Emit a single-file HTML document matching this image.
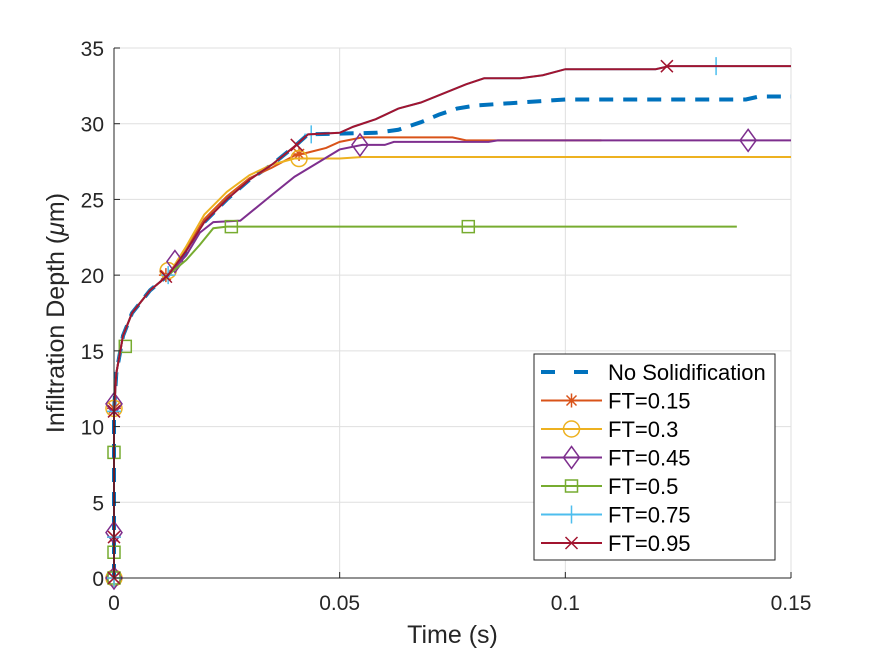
<!DOCTYPE html>
<html><head><meta charset="utf-8"><style>
html,body{margin:0;padding:0;background:#fff;}
svg text{font-family:"Liberation Sans",sans-serif;fill:#262626;}
</style></head><body>
<svg id="chart" width="875" height="656" viewBox="0 0 875 656" xmlns="http://www.w3.org/2000/svg">
<rect width="875" height="656" fill="#fff"/>
<g id="grid"></g><g id="series"></g><g id="axes"></g><g id="legend"></g>
</svg>
<script>
const xTicks=[0,0.05,0.1,0.15];
const xTickLabels=["0","0.05","0.1","0.15"];
const yTicks=[0,5,10,15,20,25,30,35];
const base=[[0,0],[0,11],[0.0005,13.5],[0.002,16],[0.004,17.5],[0.008,19],[0.012,20]];
const noSolid=base.concat([[0.016,21.6],[0.02,23.5],[0.025,25],[0.03,26.3],[0.035,27.3],[0.04,28.5],[0.043,29.3],[0.058,29.4],[0.063,29.6],[0.068,30.1],[0.072,30.6],[0.076,31.0],[0.08,31.2],[0.09,31.4],[0.1,31.6],[0.14,31.6],[0.143,31.8],[0.15,31.8]]);
const ft15=base.concat([[0.016,21.7],[0.02,23.7],[0.025,25.2],[0.03,26.4],[0.035,27.1],[0.04,27.9],[0.043,28.1],[0.047,28.4],[0.05,28.8],[0.055,29.1],[0.075,29.1],[0.078,28.9],[0.108,28.9]]);
const ft30=base.concat([[0.016,21.9],[0.02,24],[0.025,25.5],[0.03,26.6],[0.035,27.3],[0.04,27.7],[0.05,27.7],[0.055,27.8],[0.15,27.8]]);
const ft45=base.concat([[0.016,21.3],[0.019,22.8],[0.022,23.5],[0.028,23.6],[0.035,25.3],[0.04,26.5],[0.045,27.4],[0.05,28.3],[0.055,28.6],[0.06,28.6],[0.062,28.8],[0.083,28.8],[0.085,28.9],[0.15,28.9]]);
const ft50=base.concat([[0.016,21],[0.019,22],[0.022,23.1],[0.025,23.2],[0.138,23.2]]);
const ft75=base.concat([[0.016,21.6],[0.02,23.5],[0.025,25],[0.03,26.3],[0.035,27.3],[0.04,28.5],[0.043,29.3],[0.05,29.4],[0.053,29.8],[0.058,30.3],[0.063,31.0],[0.068,31.4],[0.073,32.0],[0.078,32.6],[0.082,33.0],[0.09,33.0],[0.095,33.2],[0.1,33.6],[0.12,33.6],[0.123,33.8],[0.15,33.8]]);
const ft95=base.concat([[0.016,21.6],[0.02,23.5],[0.025,25],[0.03,26.3],[0.035,27.3],[0.04,28.5],[0.043,29.3],[0.05,29.4],[0.053,29.8],[0.058,30.3],[0.063,31.0],[0.068,31.4],[0.073,32.0],[0.078,32.6],[0.082,33.0],[0.09,33.0],[0.095,33.2],[0.1,33.6],[0.12,33.6],[0.123,33.8],[0.15,33.8]]);
const mk15=[[0,0],[0,2.7],[0,11.2],[0.0115,20],[0.041,28]];
const mk30=[[0,0],[0,11.2],[0.012,20.3],[0.041,27.7]];
const mk45=[[0,0],[0,3],[0,11.5],[0.0135,20.9],[0.0545,28.6],[0.1405,28.9]];
const mk50=[[0,0],[0,1.7],[0,8.3],[0.0025,15.3],[0.026,23.2],[0.0785,23.2]];
const mk75=[[0,0],[0,2.7],[0,11],[0.012,20],[0.0437,29.3],[0.1334,33.8]];
const mk95=[[0,0],[0,2.7],[0,11],[0.0115,19.9],[0.0405,28.6],[0.1225,33.8]];
const names=["No Solidification","FT=0.15","FT=0.3","FT=0.45","FT=0.5","FT=0.75","FT=0.95"];

const X0=114,X1=791,Y0=578,Y1=48;
const sx=t=>X0+t/0.15*(X1-X0);
const sy=d=>Y0-d/35*(Y0-Y1);
const NS="http://www.w3.org/2000/svg";
function mk(tag,attrs,parent){const e=document.createElementNS(NS,tag);for(const k in attrs)e.setAttribute(k,attrs[k]);parent.appendChild(e);return e;}
const grid=document.getElementById('grid'),axes=document.getElementById('axes'),ser=document.getElementById('series'),leg=document.getElementById('legend');
xTicks.forEach((t,i)=>{
 const g=mk('line',{x1:sx(t),x2:sx(t),y1:Y1,y2:Y0,stroke:'#dfdfdf','stroke-width':1},grid);
 
 mk('line',{x1:sx(t),x2:sx(t),y1:Y0,y2:Y0-6,stroke:'#262626'},axes);
 const tx=mk('text',{x:sx(t),y:Y0+32,'font-size':21,'text-anchor':'middle'},axes);tx.textContent=xTickLabels[i];
 
});
yTicks.forEach(v=>{
 const g=mk('line',{x1:X0,x2:X1,y1:sy(v),y2:sy(v),stroke:'#dfdfdf','stroke-width':1},grid);
 
 mk('line',{x1:X0,x2:X0+6,y1:sy(v),y2:sy(v),stroke:'#262626'},axes);
 const tx=mk('text',{x:X0-10,y:sy(v)+8,'font-size':21,'text-anchor':'end'},axes);tx.textContent=v;
 
});
const ax=mk('path',{d:`M${X0},${Y1}V${Y0}H${X1}`,fill:'none',stroke:'#262626','stroke-width':1},axes);

const xl=mk('text',{x:(X0+X1)/2,y:643,'font-size':25,'text-anchor':'middle'},axes);xl.textContent='Time (s)';

const yl=mk('text',{x:0,y:0,'font-size':25,'text-anchor':'middle',transform:`translate(64,${(Y0+Y1)/2}) rotate(-90)`},axes);
yl.innerHTML='Infiltration Depth (<tspan font-style="italic">μ</tspan>m)';


function marker(type,x,y,c,p){
 const s=7;let d;
 if(type==='star')d=`M${x-s},${y}H${x+s}M${x},${y-s}V${y+s}M${x-5},${y-5}L${x+5},${y+5}M${x-5},${y+5}L${x+5},${y-5}`;
 else if(type==='plus')d=`M${x-s},${y}H${x+s}M${x},${y-s-2}V${y+s+2}`;
 else if(type==='x')d=`M${x-6},${y-6}L${x+6},${y+6}M${x-6},${y+6}L${x+6},${y-6}`;
 else if(type==='diamond')d=`M${x},${y-11}L${x+8},${y}L${x},${y+11}L${x-8},${y}Z`;
 else if(type==='square')d=`M${x-6},${y-6}H${x+6}V${y+6}H${x-6}Z`;
 if(type==='circle'){const c1=mk('circle',{cx:x,cy:y,r:8,fill:'none',stroke:c,'stroke-width':1.5},p);return c1;}
 return mk('path',{d,fill:'none',stroke:c,'stroke-width':1.5},p);
}
const series=[
 {n:'ft-0.15',d:ft15,m:mk15,c:'#D95319',t:'star'},
 {n:'ft-0.3',d:ft30,m:mk30,c:'#EDB120',t:'circle'},
 {n:'ft-0.45',d:ft45,m:mk45,c:'#7E2F8E',t:'diamond'},
 {n:'ft-0.5',d:ft50,m:mk50,c:'#77AC30',t:'square'},
 {n:'ft-0.75',d:ft75,m:mk75,c:'#4DBEEE',t:'plus'},
 {n:'ft-0.95',d:ft95,m:mk95,c:'#A2142F',t:'x'},
];
const ns=mk('path',{d:'M'+noSolid.map(p=>sx(p[0])+','+sy(p[1])).join('L'),fill:'none',stroke:'#0072BD','stroke-width':4,'stroke-dasharray':'14,10'},ser);

series.forEach(s=>{
 const g=mk('g',{},ser);
 
 mk('path',{d:'M'+s.d.map(p=>sx(p[0])+','+sy(p[1])).join('L'),fill:'none',stroke:s.c,'stroke-width':2},g);
 s.m.forEach(p=>{const e=marker(s.t,sx(p[0]),sy(p[1]),s.c,g);
  });
});
const lb=mk('rect',{x:534,y:354,width:241,height:206,fill:'#fff',stroke:'#262626','stroke-width':1},leg);

names.forEach((n,i)=>{
 const y=372+i*28.5;
 const g=mk('g',{},leg);
 
 if(i===0){mk('line',{x1:541,x2:602,y1:y,y2:y,stroke:'#0072BD','stroke-width':4,'stroke-dasharray':'14,19'},g);}
 else{const s=series[i-1];mk('line',{x1:541,x2:602,y1:y,y2:y,stroke:s.c,'stroke-width':2},g);marker(s.t,571.5,y,s.c,g);}
 const t=mk('text',{x:608,y:y+8,'font-size':22,fill:'#000'},g);t.textContent=n;t.style.fill='#000';
});
</script>
</body></html>
